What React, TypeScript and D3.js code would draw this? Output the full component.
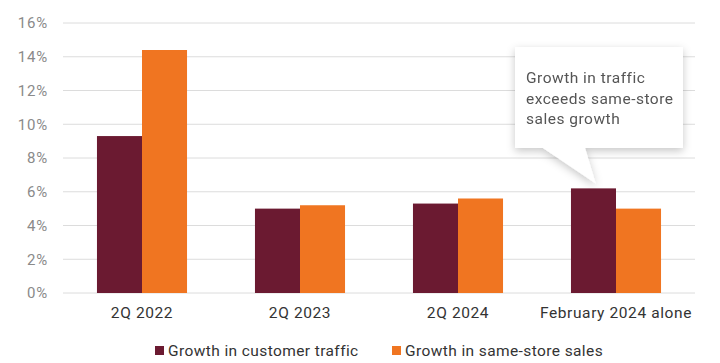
import { useEffect, useRef } from "react";
import * as d3 from "d3";

const categories = ["2Q 2022", "2Q 2023", "2Q 2024", "February 2024 alone"];
const series = ["Growth in customer traffic", "Growth in same-store sales"];
const trafficValues = [9.3, 5.0, 5.3, 6.2];
const salesValues = [14.4, 5.2, 5.6, 5.0];
const yTicks = [0, 2, 4, 6, 8, 10, 12, 14, 16];
const calloutLines = ["Growth in traffic", "exceeds same-store", "sales growth"];

const colors = ["#6b1a31", "#f07521"];
const font = "Roboto, 'DejaVu Sans', sans-serif";

export default function App() {
	const svgRef = useRef<SVGSVGElement>(null);
	const width = 720;
	const height = 363;

	useEffect(() => {
		if (!svgRef.current) return;
		const svg = d3.select(svgRef.current);
		svg.selectAll("*").remove();

		const margin = { top: 23, right: 25, bottom: 70, left: 63 };
		const innerWidth = width - margin.left - margin.right;
		const innerHeight = height - margin.top - margin.bottom;

		const defs = svg.append("defs");
		const filter = defs
			.append("filter")
			.attr("id", "shadow")
			.attr("x", "-20%")
			.attr("y", "-20%")
			.attr("width", "140%")
			.attr("height", "150%");
		filter
			.append("feDropShadow")
			.attr("dx", 0)
			.attr("dy", 3)
			.attr("stdDeviation", 4)
			.attr("flood-color", "#000")
			.attr("flood-opacity", 0.22);

		const g = svg
			.append("g")
			.attr("transform", `translate(${margin.left},${margin.top})`);

		const x0 = d3
			.scaleBand()
			.domain(categories)
			.range([0, innerWidth])
			.paddingInner(0.43)
			.paddingOuter(0.215);

		const x1 = d3
			.scaleBand()
			.domain(series)
			.range([0, x0.bandwidth()]);

		const y = d3.scaleLinear().domain([0, 16]).range([innerHeight, 0]);

		// gridlines
		g.append("g")
			.selectAll("line")
			.data(yTicks)
			.join("line")
			.attr("x1", 0)
			.attr("x2", innerWidth)
			.attr("y1", (d) => y(d))
			.attr("y2", (d) => y(d))
			.attr("stroke", "#dcdcdc")
			.attr("stroke-width", 1);

		g.append("g")
			.selectAll("text")
			.data(yTicks)
			.join("text")
			.attr("x", -15)
			.attr("y", (d) => y(d))
			.attr("dy", "0.35em")
			.attr("text-anchor", "end")
			.attr("font-family", font)
			.attr("font-size", 15)
			.attr("letter-spacing", 0.8)
			.attr("fill", "#8a8a8a")
			.text((d) => `${d}%`);

		const rows = categories.map((c, i) => ({
			category: c,
			values: [trafficValues[i], salesValues[i]],
		}));

		const groups = g
			.append("g")
			.selectAll("g")
			.data(rows)
			.join("g")
			.attr("transform", (d) => `translate(${x0(d.category)},0)`);

		groups
			.selectAll("rect")
			.data((d) => d.values.map((v, j) => ({ key: series[j], v, j })))
			.join("rect")
			.attr("x", (d) => x1(d.key)!)
			.attr("width", x1.bandwidth())
			.attr("y", (d) => y(d.v))
			.attr("height", (d) => innerHeight - y(d.v))
			.attr("fill", (d) => colors[d.j]);

		g.append("g")
			.selectAll("text")
			.data(categories)
			.join("text")
			.attr("x", (d) => x0(d)! + x0.bandwidth() / 2)
			.attr("y", innerHeight + 25)
			.attr("text-anchor", "middle")
			.attr("font-family", font)
			.attr("font-size", 15.5)
			.attr("letter-spacing", 0.6)
			.attr("fill", "#333")
			.text((d) => d);

		// callout
		const last = categories[categories.length - 1];
		const tipX = x0(last)! + x1(series[0])! + x1.bandwidth() * 0.55;
		const tipY = y(trafficValues[3]) - 5;
		const box = { x: 515 - margin.left, y: 47 - margin.top, w: 168, h: 101 };
		const callout = g.append("g").attr("filter", "url(#shadow)");
		callout
			.append("path")
			.attr(
				"d",
				`M${box.x},${box.y}H${box.x + box.w}V${box.y + box.h}H${box.x + 70}L${tipX},${tipY}L${box.x + 28},${box.y + box.h}H${box.x}Z`
			)
			.attr("fill", "#fff");
		callout
			.append("g")
			.selectAll("text")
			.data(calloutLines)
			.join("text")
			.attr("x", box.x + 11)
			.attr("y", (_, i) => box.y + 36 + i * 20.5)
			.attr("font-family", font)
			.attr("font-size", 15.5)
			.attr("letter-spacing", 0.5)
			.attr("fill", "#555")
			.text((d) => d);

		// legend
		const legendX = [155, 392];
		const legend = svg
			.append("g")
			.selectAll("g")
			.data(series)
			.join("g")
			.attr("transform", (_, i) => `translate(${legendX[i]},351)`);
		legend
			.append("rect")
			.attr("x", 0)
			.attr("y", -5)
			.attr("width", 9)
			.attr("height", 9)
			.attr("fill", (_, i) => colors[i]);
		legend
			.append("text")
			.attr("x", 13)
			.attr("y", 0)
			.attr("dy", "0.35em")
			.attr("font-family", font)
			.attr("font-size", 15.5)
			.attr("letter-spacing", 0.4)
			.attr("fill", "#333")
			.text((d) => d);
	}, []);

	return (
		<svg
			ref={svgRef}
			width={width}
			height={height}
			style={{ position: "absolute", left: 0, top: 0, background: "#fff" }}
		/>
	);
}
